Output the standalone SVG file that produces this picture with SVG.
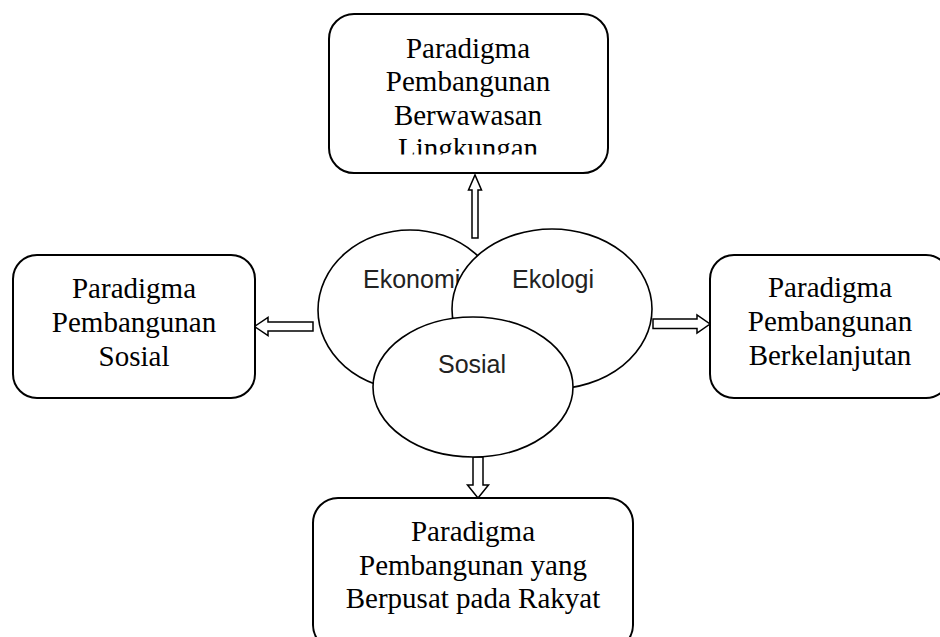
<svg xmlns="http://www.w3.org/2000/svg" width="940" height="637" viewBox="0 0 940 637">
<defs>
<style>
.box{fill:#fff;stroke:#000;stroke-width:2}
.ell{fill:#fff;stroke:#000;stroke-width:1.6}
.serif{font-family:"Liberation Serif","Times New Roman",serif;font-size:29px;fill:#000;text-anchor:middle}
.sans{font-family:"Liberation Sans",Arial,sans-serif;font-size:25px;fill:#222}
.arr{fill:#fff;stroke:#000;stroke-width:1.5;stroke-linejoin:miter}
</style>
<clipPath id="topclip"><rect x="329" y="14" width="279" height="140.5"/></clipPath>
</defs>
<rect width="940" height="637" fill="#fff"/>
<g id="connectors">
<polygon class="arr" points="472,238 478,238 478,190 481.5,190 475,175 468.5,190 472,190"/>
<polygon class="arr" points="313,322 268,322 268,317.5 254.5,326.5 268,335.5 268,331 313,331"/>
<polygon class="arr" points="653,319 697,319 697,315 710,324 697,333 697,328.5 653,328.5"/>
<polygon class="arr" points="473,457 483,457 483,485 488.5,485 478,498 467.5,485 473,485"/>
</g>
<g id="node-top">
<rect class="box" x="329" y="14" width="279" height="159" rx="25"/>
<g clip-path="url(#topclip)">
<text class="serif" x="468" y="58">Paradigma</text>
<text class="serif" x="468" y="91">Pembangunan</text>
<text class="serif" x="468" y="124.5">Berwawasan</text>
<text class="serif" x="468" y="158">Lingkungan</text>
</g>
</g>
<g id="node-left">
<rect class="box" x="13" y="255" width="242" height="143" rx="24"/>
<text class="serif" x="134" y="298">Paradigma</text>
<text class="serif" x="134" y="332">Pembangunan</text>
<text class="serif" x="134" y="366">Sosial</text>
</g>
<g id="node-right">
<rect class="box" x="710" y="255" width="240" height="143" rx="24"/>
<text class="serif" x="830" y="297">Paradigma</text>
<text class="serif" x="830" y="331">Pembangunan</text>
<text class="serif" x="830" y="365">Berkelanjutan</text>
</g>
<g id="node-bottom">
<rect class="box" x="313" y="498" width="320" height="152" rx="25"/>
<text class="serif" x="473" y="541">Paradigma</text>
<text class="serif" x="473" y="575">Pembangunan yang</text>
<text class="serif" x="473" y="608">Berpusat pada Rakyat</text>
</g>
<g id="node-ekonomi">
<ellipse class="ell" cx="410" cy="310" rx="92" ry="80"/>
<text class="sans" x="363" y="288">Ekonomi</text>
</g>
<g id="node-ekologi">
<ellipse class="ell" cx="552" cy="309" rx="100" ry="80"/>
<text class="sans" x="553" y="288" text-anchor="middle">Ekologi</text>
</g>
<g id="node-sosial">
<ellipse class="ell" cx="473" cy="387" rx="100" ry="70"/>
<text class="sans" x="472" y="373" text-anchor="middle">Sosial</text>
</g>
</svg>
